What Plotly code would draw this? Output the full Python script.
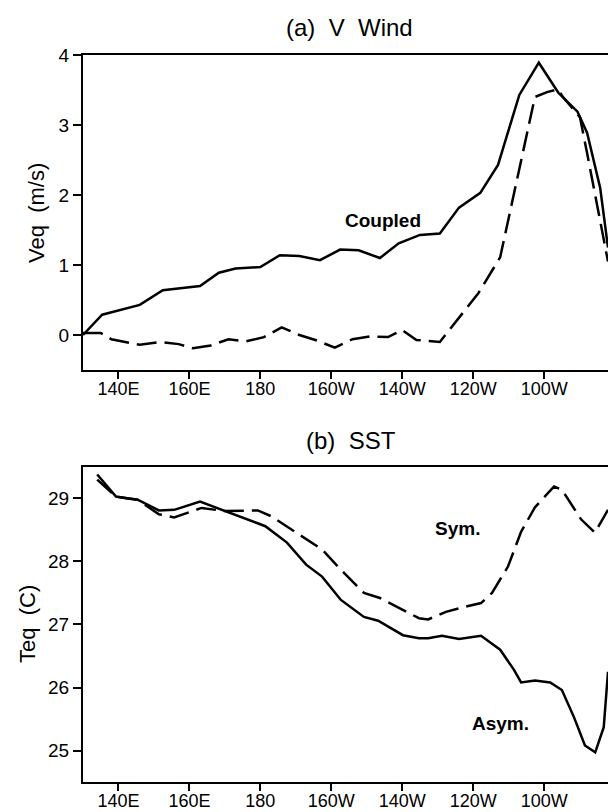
import plotly.graph_objects as go
from plotly.subplots import make_subplots

# ---- Data (longitude in degrees east, 180 = dateline, 260 = 100W) ----
lon_coupled = [130, 135.4, 146, 152.5, 163, 168.3, 173, 180, 185.5, 191, 196.8, 202.5, 207.7,
               213.7, 219, 225, 230.6, 236, 242, 247, 253, 258.5, 264, 269.4, 272.1, 275.8, 278]
v_coupled = [0.0, 0.29, 0.43, 0.64, 0.70, 0.89, 0.95, 0.97, 1.14, 1.13, 1.07, 1.22, 1.21,
             1.10, 1.31, 1.43, 1.45, 1.82, 2.03, 2.43, 3.43, 3.89, 3.46, 3.19, 2.89, 2.10, 1.25]

lon_uncoupled = [130, 135, 138, 143, 146, 152, 157, 161, 166, 171, 176, 181, 186, 191, 196, 201,
                 206, 211, 216, 220, 224, 230.6, 241.5, 247.6, 250.9, 255.2, 257.4, 260.8, 263.9,
                 265.3, 270.1, 272.1, 274.9, 278]
v_uncoupled = [0.03, 0.03, -0.06, -0.11, -0.14, -0.10, -0.13, -0.19, -0.15, -0.06, -0.09, -0.03,
               0.11, 0.0, -0.08, -0.18, -0.06, -0.02, -0.03, 0.07, -0.07, -0.10, 0.60, 1.11, 1.89,
               2.93, 3.40, 3.47, 3.51, 3.40, 3.11, 2.60, 1.89, 1.05]

lon_asym = [134, 139.3, 142.7, 145.4, 151.4, 155.7, 163, 170, 176.5, 181.4, 187.5, 192.9, 197.4,
            202.7, 209.2, 213.2, 220.2, 224.7, 227.3, 231.2, 236, 242.2, 247.6, 251.5, 253.5,
            257.4, 261.7, 265, 268.4, 271.5, 274.4, 276.8, 278]
t_asym = [29.38, 29.03, 29.0, 28.98, 28.81, 28.82, 28.95, 28.8, 28.67, 28.56, 28.3, 27.95, 27.76,
          27.39, 27.12, 27.06, 26.83, 26.78, 26.78, 26.82, 26.77, 26.82, 26.6, 26.28, 26.08,
          26.11, 26.08, 25.96, 25.53, 25.08, 24.97, 25.37, 26.25]

lon_sym = [134, 139.3, 145.4, 151.4, 155.7, 163.4, 170, 179.3, 183, 192.9, 197.4, 202.7, 209.2,
           213.7, 220.2, 224.7, 227.3, 232.3, 237.7, 242.2, 245.3, 249.8, 253.5, 257.4, 262.8,
           265, 270.4, 274.3, 278]
t_sym = [29.3, 29.03, 28.98, 28.75, 28.7, 28.85, 28.8, 28.81, 28.72, 28.35, 28.19, 27.87, 27.5,
         27.42, 27.23, 27.1, 27.08, 27.2, 27.28, 27.34, 27.5, 27.92, 28.47, 28.86, 29.19,
         29.14, 28.67, 28.46, 28.82]

lon_tickvals = [140, 160, 180, 200, 220, 240, 260]
lon_ticktext = ["140E", "160E", "180", "160W", "140W", "120W", "100W"]
veq_ticks = [0, 1, 2, 3, 4]
teq_ticks = [25, 26, 27, 28, 29]

FONT = "Liberation Sans, Arial, sans-serif"
NB = "\u00a0"

fig = make_subplots(rows=2, cols=1, vertical_spacing=0.1333)

line_solid = dict(color="black", width=2.5)
line_dash = dict(color="black", width=2.5, dash="20px,8px")

fig.add_trace(go.Scatter(x=lon_coupled, y=v_coupled, mode="lines", line=line_solid,
                         showlegend=False), row=1, col=1)
fig.add_trace(go.Scatter(x=lon_uncoupled, y=v_uncoupled, mode="lines", line=line_dash,
                         showlegend=False), row=1, col=1)
fig.add_trace(go.Scatter(x=lon_asym, y=t_asym, mode="lines", line=line_solid,
                         showlegend=False), row=2, col=1)
fig.add_trace(go.Scatter(x=lon_sym, y=t_sym, mode="lines", line=line_dash,
                         showlegend=False), row=2, col=1)

xcommon = dict(range=[130, 278], tickvals=lon_tickvals, ticktext=lon_ticktext,
               showline=True, linecolor="black", linewidth=2, mirror=True,
               ticks="outside", ticklen=7, tickwidth=1.5, tickcolor="black",
               showgrid=False, zeroline=False, automargin=False, ticklabelstandoff=-6,
               tickfont=dict(family=FONT, size=18, color="black"))
ycommon = dict(showline=True, linecolor="black", linewidth=2, mirror=False,
               ticks="outside", ticklen=8, tickwidth=1.5, tickcolor="black",
               showgrid=False, zeroline=False, automargin=False,
               tickfont=dict(family=FONT, size=19, color="black"))

fig.update_xaxes(**xcommon)
fig.update_yaxes(**ycommon)
fig.update_yaxes(range=[-0.5, 4], tickvals=veq_ticks, row=1, col=1)
fig.update_yaxes(range=[24.5, 29.5], tickvals=teq_ticks, row=2, col=1)
fig.update_layout(yaxis=dict(domain=[0.5667, 1.0]), yaxis2=dict(domain=[0.0, 0.4333]),
                  xaxis=dict(domain=[0, 1]), xaxis2=dict(domain=[0, 1]))

ann = []
# panel titles
ann.append(dict(text="(a)" + NB * 2 + "V" + NB * 2 + "Wind", xref="paper", yref="paper",
                x=0.507, y=(782 - 28) / 727, xanchor="center", yanchor="middle",
                showarrow=False, font=dict(family=FONT, size=24, color="black")))
ann.append(dict(text="(b)" + NB * 2 + "SST", xref="paper", yref="paper",
                x=0.511, y=(782 - 440) / 727, xanchor="center", yanchor="middle",
                showarrow=False, font=dict(family=FONT, size=24, color="black")))
# y-axis titles
ann.append(dict(text="Veq" + NB * 2 + "(m/s)", xref="paper", yref="paper",
                x=(37 - 83) / 525, y=(782 - 213) / 727, xanchor="center", yanchor="middle",
                textangle=-90, showarrow=False, font=dict(family=FONT, size=22, color="black")))
ann.append(dict(text="Teq" + NB * 2 + "(C)", xref="paper", yref="paper",
                x=(27 - 83) / 525, y=(782 - 624) / 727, xanchor="center", yanchor="middle",
                textangle=-90, showarrow=False, font=dict(family=FONT, size=22, color="black")))
# curve labels
ann.append(dict(text="<b>Coupled</b>", xref="x", yref="y", x=214.6, y=1.63,
                xanchor="center", yanchor="middle", showarrow=False,
                font=dict(family=FONT, size=19, color="black")))
ann.append(dict(text="<b>Sym.</b>", xref="x2", yref="y2", x=235.7, y=28.52,
                xanchor="center", yanchor="middle", showarrow=False,
                font=dict(family=FONT, size=19, color="black")))
ann.append(dict(text="<b>Asym.</b>", xref="x2", yref="y2", x=247.6, y=25.43,
                xanchor="center", yanchor="middle", showarrow=False,
                font=dict(family=FONT, size=19, color="black")))

fig.update_layout(width=608, height=812, margin=dict(l=83, r=0, t=55, b=30),
                  paper_bgcolor="white", plot_bgcolor="white", annotations=ann,
                  font=dict(family=FONT, color="black"))

fig.write_html("out.html")
